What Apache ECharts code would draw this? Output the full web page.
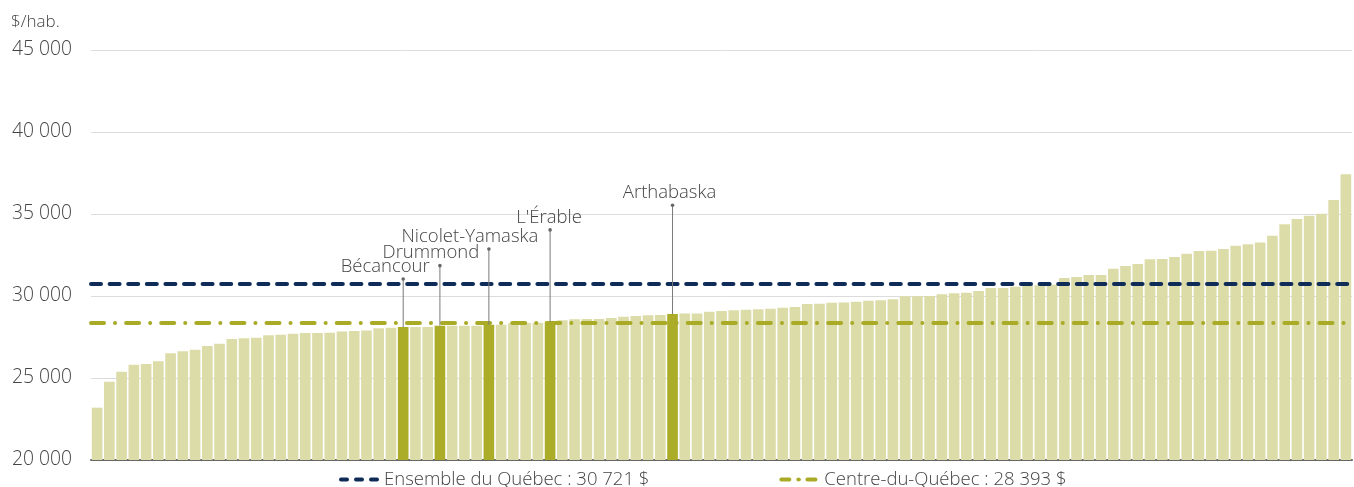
<!DOCTYPE html>
<html>
<head>
<meta charset="utf-8">
<script src="https://cdn.jsdelivr.net/npm/echarts@6/dist/echarts.min.js"></script>
<style>
html,body{margin:0;padding:0;background:#fff;}
#chart{width:1354px;height:487px;}
</style>
</head>
<body>
<div id="chart"></div>
<script>
// ---- data ----
const values = [
  23190, 24775, 25385, 25810, 25850, 26020, 26505, 26630, 26730, 26950,
  27090, 27380, 27420, 27460, 27600, 27640, 27700, 27745, 27750, 27760,
  27830, 27870, 27890, 28030, 28070, 28110, 28110, 28110, 28190, 28190,
  28190, 28190, 28250, 28250, 28335, 28350, 28375, 28440, 28520, 28580,
  28600, 28600, 28660, 28740, 28780, 28820, 28840, 28900, 28940, 28940,
  29045, 29085, 29125, 29165, 29190, 29230, 29290, 29330, 29515, 29520,
  29595, 29600, 29655, 29715, 29735, 29800, 29980, 29985, 30000, 30100,
  30165, 30205, 30305, 30490, 30490, 30570, 30630, 30650, 30680, 31100,
  31160, 31280, 31280, 31665, 31830, 31950, 32235, 32255, 32380, 32580,
  32745, 32765, 32865, 33070, 33150, 33255, 33680, 34370, 34695, 34900,
  35020, 35855, 37420
];
const categories = values.map((v, i) => String(i + 1));
const highlightIdx = [25, 28, 32, 37, 47];
const highlightNames = ['Bécancour', 'Drummond', 'Nicolet-Yamaska', "L'Érable", 'Arthabaska'];
const annotTop = [31040, 31850, 32870, 34030, 35530];
const refNames = ['Ensemble du Québec : 30 721 $', 'Centre-du-Québec : 28 393 $'];
const refValues = [30721, 28393];
const yTicks = { min: 20000, max: 45000, interval: 5000 };
const unitLabel = '$/hab.';

// ---- style ----
const labelDx = [-18, -9, -19, -1, -3];
const cLight = '#dcdca9';
const cDark = '#abac27';
const cNavy = '#0e2c57';
const cOlive = '#a9ab27';
const font = 'Open Sans';
const txt = '#444';
const fw = 300;
const navyDash = [10, 8.6];
const oliveDash = [13, 11, 0.1, 11];

const barData = values.map((v, i) => {
  const h = highlightIdx.indexOf(i) >= 0;
  return { value: v, itemStyle: { color: h ? cDark : cLight } };
});
const annotData = highlightIdx.map((idx, k) => [idx, values[idx], annotTop[k], k]);

function fmt(v) { return String(v).replace(/\B(?=(\d{3})+(?!\d))/g, ' '); }

const chart = echarts.init(document.getElementById('chart'), null, { renderer: 'canvas' });
chart.setOption({
  animation: false,
  backgroundColor: '#fff',
  textStyle: { fontFamily: font },
  grid: { left: 91, right: 2, top: 50, bottom: 27, containLabel: false },
  graphic: [{
    type: 'text', left: 11, top: 14,
    style: { text: unitLabel, fontFamily: font, fontWeight: fw, fontSize: 17, fill: txt }
  }],
  legend: {
    left: 334, top: 465, itemGap: 130, itemWidth: 36, itemHeight: 4,
    data: [
      { name: refNames[0], lineStyle: { color: cNavy, width: 4, type: [6, 9], cap: 'round' } },
      { name: refNames[1], lineStyle: { color: cOlive, width: 4, type: [8, 9, 0.1, 9], cap: 'round' } }
    ],
    textStyle: { fontFamily: font, fontWeight: fw, fontSize: 18.5, color: txt, padding: [0, 0, 0, 2] }
  },
  xAxis: {
    type: 'category', data: categories,
    axisLine: { lineStyle: { color: '#666', width: 2 } },
    axisTick: { show: false }, axisLabel: { show: false }, splitLine: { show: false }
  },
  yAxis: {
    type: 'value', min: yTicks.min, max: yTicks.max, interval: yTicks.interval,
    axisLine: { show: false }, axisTick: { show: false },
    axisLabel: { formatter: fmt, fontFamily: font, fontWeight: fw, fontSize: 19.3, color: txt, margin: 19 },
    splitLine: { lineStyle: { color: '#dcdcdc', width: 1 } }
  },
  series: [
    {
      type: 'bar', data: barData, barCategoryGap: '13%', z: 2
    },
    {
      name: refNames[0], type: 'line', data: [], symbol: 'none', z: 5,
      lineStyle: { color: cNavy, width: 4, type: navyDash, cap: 'round' },
      itemStyle: { color: cNavy },
      markLine: {
        silent: true, symbol: 'none', label: { show: false },
        lineStyle: { color: cNavy, width: 4, type: navyDash, cap: 'round' },
        data: [{ yAxis: refValues[0] }]
      }
    },
    {
      name: refNames[1], type: 'line', data: [], symbol: 'none', z: 5,
      lineStyle: { color: cOlive, width: 4, type: oliveDash, cap: 'round' },
      itemStyle: { color: cOlive },
      markLine: {
        silent: true, symbol: 'none', label: { show: false },
        lineStyle: { color: cOlive, width: 4, type: oliveDash, cap: 'round' },
        data: [{ yAxis: refValues[1] }]
      }
    },
    {
      type: 'custom', data: annotData, z: 10, silent: true,
      renderItem: function (params, api) {
        const idx = api.value(0);
        const k = api.value(3);
        const p0 = api.coord([idx, api.value(1)]);
        const p1 = api.coord([idx, api.value(2)]);
        return {
          type: 'group',
          children: [
            { type: 'line', shape: { x1: p0[0], y1: p0[1], x2: p1[0], y2: p1[1] },
              style: { stroke: '#7a7a7a', lineWidth: 1 } },
            { type: 'circle', shape: { cx: p1[0], cy: p1[1], r: 1.8 },
              style: { fill: '#666' } },
            { type: 'text', x: p1[0] + labelDx[k], y: p1[1] - 3,
              style: { text: highlightNames[k], fontFamily: font, fontWeight: fw, fontSize: 18.5, fill: txt,
                       align: 'center', verticalAlign: 'bottom' } }
          ]
        };
      }
    }
  ]
});
</script>
</body>
</html>
